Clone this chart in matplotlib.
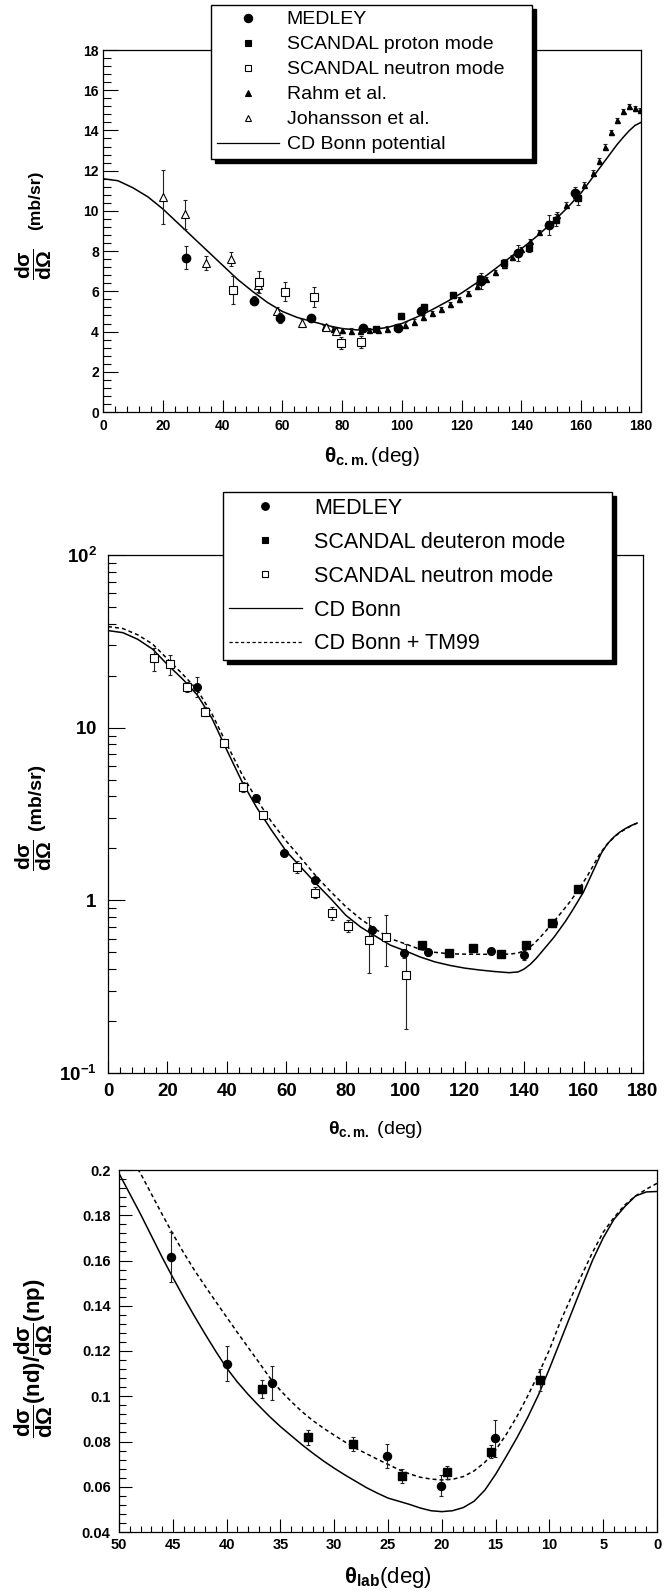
import numpy as np
import matplotlib
matplotlib.use("Agg")
import matplotlib.pyplot as plt
from matplotlib.lines import Line2D
from matplotlib.ticker import (MultipleLocator, FixedLocator, FixedFormatter,
                               NullFormatter, LogLocator, FuncFormatter)

plt.rcParams['font.family'] = ['Liberation Sans', 'DejaVu Sans']
plt.rcParams['font.weight'] = 'bold'
plt.rcParams['mathtext.fontset'] = 'custom'
plt.rcParams['mathtext.rm'] = 'Liberation Sans'
plt.rcParams['mathtext.it'] = 'Liberation Sans:italic'
plt.rcParams['mathtext.bf'] = 'Liberation Sans:bold'
plt.rcParams['mathtext.sf'] = 'Liberation Sans'

# ---------------- panel 1: np cross section (linear) ----------------
top_medley_x = [27.7, 50.4, 59.1, 69.7, 86.9, 98.6, 106.4, 126.5, 138.7, 149.3, 158.0]
top_medley_y = [7.68, 5.54, 4.66, 4.66, 4.16, 4.16, 5.00, 6.50, 7.90, 9.30, 10.88]
top_medley_err = [0.58, 0.22, 0.25, 0.15, 0.10, 0.10, 0.15, 0.40, 0.40, 0.50, 0.30]

top_scp_x = [91.5, 99.8, 107.5, 117.0, 126.0, 134.3, 142.6, 151.5, 158.8]
top_scp_y = [4.15, 4.78, 5.24, 5.82, 6.60, 7.40, 8.14, 9.55, 10.63]
top_scp_err = [0.10, 0.15, 0.15, 0.15, 0.20, 0.20, 0.20, 0.30, 0.35]

top_scn_x = [43.5, 52.1, 60.8, 70.5, 79.7, 86.4]
top_scn_y = [6.07, 6.45, 5.99, 5.74, 3.45, 3.50]
top_scn_err = [0.68, 0.55, 0.48, 0.50, 0.30, 0.30]

top_rahm_x = [74, 77, 80, 83, 86, 89, 92, 95, 98, 101, 104, 107, 110, 113, 116,
              119, 122, 125, 128, 131, 134, 137, 140, 143, 146, 149, 152, 155,
              158, 161, 164, 166, 168, 170, 172, 174, 176, 178, 179.5]
top_rahm_y = [4.22, 4.12, 4.07, 4.05, 4.05, 4.08, 4.10, 4.15, 4.25, 4.35, 4.50,
              4.70, 4.90, 5.10, 5.35, 5.60, 5.90, 6.25, 6.60, 6.95, 7.30, 7.70,
              8.10, 8.50, 8.95, 9.40, 9.80, 10.30, 10.80, 11.30, 11.90, 12.50,
              13.20, 13.90, 14.50, 14.95, 15.20, 15.10, 15.00]

top_joh_x = [20.1, 27.4, 34.3, 42.9, 52.0, 58.2, 66.5, 74.7, 78.0]
top_joh_y = [10.70, 9.83, 7.40, 7.61, 6.30, 5.02, 4.41, 4.25, 4.05]
top_joh_err = [1.35, 0.73, 0.35, 0.33, 0.35, 0.20, 0.20, 0.15, 0.15]

top_bonn_x = [0, 5, 10, 15, 20, 25, 30, 35, 40, 45, 50, 55, 60, 65, 70, 75, 80,
              85, 90, 95, 100, 105, 110, 115, 120, 125, 130, 135, 140, 145, 150,
              155, 160, 165, 170, 172, 174, 176, 178, 180]
top_bonn_y = [11.6, 11.5, 11.15, 10.7, 10.1, 9.4, 8.7, 8.0, 7.3, 6.6, 6.0, 5.45,
              5.0, 4.7, 4.5, 4.3, 4.15, 4.08, 4.1, 4.2, 4.4, 4.72, 5.08, 5.48,
              5.92, 6.42, 6.98, 7.55, 8.12, 8.72, 9.38, 10.1, 10.9, 11.9, 12.9,
              13.3, 13.65, 13.98, 14.25, 14.4]

# ---------------- panel 2: nd cross section (log) ----------------
mid_medley_x = [29.8, 49.8, 59.1, 69.7, 88.7, 99.7, 107.7, 129.0, 139.8, 149.8]
mid_medley_y = [17.3, 3.9, 1.88, 1.31, 0.674, 0.494, 0.499, 0.512, 0.483, 0.74]
mid_medley_err = [2.3, 0.15, 0.08, 0.06, 0.04, 0.03, 0.02, 0.02, 0.03, 0.04]

mid_scd_x = [105.8, 114.6, 122.8, 132.1, 140.6, 149.4, 158.2]
mid_scd_y = [0.552, 0.494, 0.529, 0.490, 0.552, 0.743, 1.17]
mid_scd_err = [0.015, 0.015, 0.015, 0.015, 0.015, 0.03, 0.04]

mid_scn_x = [15.5, 20.8, 26.7, 32.6, 39.0, 45.3, 52.1, 63.6, 69.8, 75.3, 80.7,
             87.7, 93.7, 100.1]
mid_scn_y = [25.2, 23.3, 17.3, 12.4, 8.13, 4.55, 3.13, 1.56, 1.11, 0.84, 0.714,
             0.59, 0.617, 0.37]
mid_scn_err = [3.8, 3.2, 1.2, 0.7, 0.4, 0.3, 0.15, 0.12, 0.08, 0.07, 0.06,
               0.21, 0.20, 0.19]

mid_bonn_x = [0, 5, 10, 15, 20, 25, 30, 35, 40, 45, 50, 55, 60, 65, 70, 75, 80,
              85, 90, 95, 100, 105, 110, 115, 120, 125, 130, 135, 138, 140, 142,
              144, 146, 148, 150, 152, 154, 156, 158, 160, 162, 164, 166, 168,
              170, 172, 174, 176, 178]
mid_bonn_y = [36.5, 35.5, 32.5, 28.5, 23.2, 19.2, 15.5, 11.3, 7.4, 4.9, 3.45,
              2.55, 1.92, 1.55, 1.25, 1.02, 0.82, 0.70, 0.62, 0.55, 0.51, 0.47,
              0.44, 0.42, 0.405, 0.395, 0.387, 0.381, 0.385, 0.40, 0.425, 0.46,
              0.505, 0.555, 0.61, 0.68, 0.76, 0.86, 0.98, 1.12, 1.33, 1.58, 1.88,
              2.12, 2.31, 2.47, 2.6, 2.71, 2.8]

mid_tm99_x = [0, 5, 10, 15, 20, 25, 30, 35, 40, 45, 50, 55, 60, 65, 70, 75, 80,
              85, 90, 95, 100, 105, 110, 115, 120, 125, 130, 135, 138, 141, 143,
              145, 147, 149, 151, 153, 155, 157, 159, 161, 163, 165, 167, 169,
              171, 173, 175, 177, 178]
mid_tm99_y = [38.5, 37.5, 34.5, 30.5, 25.0, 20.5, 16.6, 12.0, 8.0, 5.4, 3.85,
              2.85, 2.2, 1.75, 1.38, 1.12, 0.92, 0.78, 0.68, 0.60, 0.56, 0.52,
              0.50, 0.49, 0.488, 0.487, 0.487, 0.488, 0.495, 0.52, 0.555, 0.60,
              0.655, 0.72, 0.79, 0.87, 0.96, 1.07, 1.2, 1.36, 1.56, 1.8, 2.02,
              2.21, 2.38, 2.52, 2.64, 2.75, 2.8]

# ---------------- panel 3: nd/np ratio vs lab angle ----------------
bot_medley_x = [45.18, 39.98, 35.78, 25.11, 20.07, 15.06]
bot_medley_y = [0.1617, 0.1143, 0.1057, 0.0736, 0.0605, 0.0814]
bot_medley_err = [0.011, 0.0077, 0.0075, 0.0055, 0.0045, 0.0083]

bot_scandal_x = [36.67, 32.44, 28.27, 23.68, 19.48, 15.40, 10.88]
bot_scandal_y = [0.1031, 0.0818, 0.0788, 0.0648, 0.0664, 0.0755, 0.1072]
bot_scandal_err = [0.004, 0.0035, 0.003, 0.003, 0.0028, 0.003, 0.005]

bot_bonn_x = [0, 1, 2, 3, 4, 5, 6, 7, 8, 9, 10, 11, 12, 13, 14, 15, 16, 17, 18,
              19, 20, 21, 22, 23, 24, 25, 26, 27, 28, 29, 30, 31, 32, 33, 34,
              35, 36, 37, 38, 39, 40, 41, 42, 43, 44, 45, 46, 47, 48, 49, 50]
bot_bonn_y = [0.1905, 0.1903, 0.1885, 0.1838, 0.1782, 0.1700, 0.1600, 0.1482,
              0.1362, 0.1242, 0.1122, 0.1008, 0.0908, 0.0818, 0.0735, 0.0655,
              0.0585, 0.0536, 0.0508, 0.0494, 0.0490, 0.0494, 0.0506, 0.0522,
              0.0536, 0.0550, 0.0572, 0.0596, 0.0624, 0.0652, 0.0682, 0.0714,
              0.0749, 0.0786, 0.0826, 0.0866, 0.0910, 0.0958, 0.1008, 0.1063,
              0.1125, 0.1198, 0.1275, 0.1355, 0.1438, 0.1525, 0.1615, 0.1710,
              0.1805, 0.1895, 0.1985]

bot_tm99_x = [0, 1, 2, 3, 4, 5, 6, 7, 8, 9, 10, 11, 12, 13, 14, 15, 16, 17, 18,
              19, 20, 21, 22, 23, 24, 25, 26, 27, 28, 29, 30, 31, 32, 33, 34,
              35, 36, 37, 38, 39, 40, 41, 42, 43, 44, 45, 46, 47, 48, 48.2]
bot_tm99_y = [0.1941, 0.1915, 0.1885, 0.1845, 0.1790, 0.1725, 0.1635, 0.1535,
              0.1435, 0.1328, 0.1205, 0.1100, 0.1003, 0.0912, 0.0832, 0.0762,
              0.0708, 0.0670, 0.0645, 0.0633, 0.0630, 0.0634, 0.0642, 0.0657,
              0.0676, 0.0699, 0.0722, 0.0746, 0.0770, 0.0798, 0.0828, 0.0859,
              0.0893, 0.0932, 0.0977, 0.1026, 0.1083, 0.1150, 0.1216, 0.1282,
              0.1350, 0.1418, 0.1487, 0.1558, 0.1635, 0.1718, 0.1805, 0.1895,
              0.1985, 0.2000]

W, H = 665, 1594
fig = plt.figure(figsize=(W / 100, H / 100), dpi=100)


def rect(x0, x1, y0, y1):
    return [x0 / W, 1 - y1 / H, (x1 - x0) / W, (y1 - y0) / H]


ax1 = fig.add_axes(rect(103, 641, 50, 412))
ax2 = fig.add_axes(rect(108, 643, 555, 1073))
ax3 = fig.add_axes(rect(119, 657, 1170, 1532))

EB = dict(ecolor='#222222', elinewidth=0.8, capsize=1.6, capthick=0.8, ls='none')
CURVE = dict(color='black', lw=1.1)
DASH = dict(color='black', lw=1.1, dashes=(2.6, 2.0))


def style(ax, xpad, ypad, size, ylen=(10.5, 5.5), xlen=(8.5, 4.3)):
    for s in ax.spines.values():
        s.set_linewidth(0.9)
    ax.tick_params(which='both', direction='in', top=False, right=False,
                   width=0.8, labelsize=size)
    ax.tick_params(axis='y', which='major', length=ylen[0], pad=ypad)
    ax.tick_params(axis='y', which='minor', length=ylen[1])
    ax.tick_params(axis='x', which='major', length=xlen[0], pad=xpad)
    ax.tick_params(axis='x', which='minor', length=xlen[1])


# ----- panel 1 -----
ax1.plot(top_bonn_x, top_bonn_y, **CURVE, zorder=2)
ax1.errorbar(top_rahm_x, top_rahm_y, yerr=0.12, marker='^', ms=3.6,
             mfc='black', mec='black', **EB, zorder=3)
ax1.errorbar(top_joh_x, top_joh_y, yerr=top_joh_err, marker='^', ms=6,
             mfc='white', mec='black', mew=0.8, **EB, zorder=4)
ax1.errorbar(top_scn_x, top_scn_y, yerr=top_scn_err, marker='s', ms=5.3,
             mfc='white', mec='black', mew=0.8, **EB, zorder=4)
ax1.errorbar(top_scp_x, top_scp_y, yerr=top_scp_err, marker='s', ms=5.0,
             mfc='black', mec='black', **EB, zorder=5)
ax1.errorbar(top_medley_x, top_medley_y, yerr=top_medley_err, marker='o', ms=6,
             mfc='black', mec='black', **EB, zorder=5)
ax1.set_xlim(0, 180)
ax1.set_ylim(0, 18)
ax1.xaxis.set_major_locator(MultipleLocator(20))
ax1.xaxis.set_minor_locator(MultipleLocator(4))
ax1.yaxis.set_major_locator(MultipleLocator(2))
ax1.yaxis.set_minor_locator(MultipleLocator(0.4))
style(ax1, xpad=5, ypad=3, size=10)

# ----- panel 2 -----
ax2.set_yscale('log')
ax2.plot(mid_bonn_x, mid_bonn_y, **CURVE, zorder=2)
ax2.plot(mid_tm99_x, mid_tm99_y, **DASH, zorder=2)
ax2.errorbar(mid_scn_x, mid_scn_y, yerr=mid_scn_err, marker='s', ms=5.3,
             mfc='white', mec='black', mew=0.8, **EB, zorder=4)
ax2.errorbar(mid_scd_x, mid_scd_y, yerr=mid_scd_err, marker='s', ms=5.3,
             mfc='black', mec='black', **EB, zorder=5)
ax2.errorbar(mid_medley_x, mid_medley_y, yerr=mid_medley_err, marker='o', ms=5.5,
             mfc='black', mec='black', **EB, zorder=5)
ax2.set_xlim(0, 180)
ax2.set_ylim(0.1, 100)
ax2.xaxis.set_major_locator(MultipleLocator(20))
ax2.xaxis.set_minor_locator(MultipleLocator(4))
ax2.yaxis.set_major_locator(FixedLocator([0.1, 1, 10, 100]))
ax2.yaxis.set_major_formatter(FixedFormatter(
    [r'$\mathbf{10^{-1}}$', r'$\mathbf{1}$', r'$\mathbf{10}$', r'$\mathbf{10^{2}}$']))
ax2.yaxis.set_minor_locator(LogLocator(base=10, subs=np.arange(2, 10)))
ax2.yaxis.set_minor_formatter(NullFormatter())
style(ax2, xpad=7, ypad=8, size=13.5, ylen=(12, 6))

# ----- panel 3 -----
ax3.plot(bot_bonn_x, bot_bonn_y, **CURVE, zorder=2)
ax3.plot(bot_tm99_x, bot_tm99_y, **DASH, zorder=2)
ax3.errorbar(bot_scandal_x, bot_scandal_y, yerr=bot_scandal_err, marker='s', ms=5.3,
             mfc='black', mec='black', **EB, zorder=5)
ax3.errorbar(bot_medley_x, bot_medley_y, yerr=bot_medley_err, marker='o', ms=5.8,
             mfc='black', mec='black', **EB, zorder=5)
ax3.set_xlim(50, 0)
ax3.set_ylim(0.04, 0.2)
ax3.xaxis.set_major_locator(MultipleLocator(5))
ax3.xaxis.set_minor_locator(MultipleLocator(1))
ax3.yaxis.set_major_locator(MultipleLocator(0.02))
ax3.yaxis.set_minor_locator(MultipleLocator(0.004))
ax3.yaxis.set_major_formatter(FuncFormatter(lambda v, p: '%g' % round(v, 3)))
style(ax3, xpad=4, ypad=6, size=10.5, ylen=(9.5, 5), xlen=(9.5, 4))

# ----- axis titles -----
def xtitle(ax, text, ypix, size):
    ax.set_xlabel(text, fontsize=size, fontweight='normal')
    x0, y0, w, h = ax.get_position().bounds
    ax.xaxis.set_label_coords(0.5, ((1 - ypix / H) - y0) / h)
    ax.xaxis.label.set_va('center')


xtitle(ax1, r'$\mathbf{\theta_{c.m.}}$(deg)', 457, 15)
xtitle(ax2, r'$\mathbf{\theta_{c.m.}}$ (deg)', 1130, 14)
xtitle(ax3, r'$\mathbf{\theta_{lab}}$(deg)', 1577, 16)

frac = r'\dfrac{d\sigma}{d\Omega}'


def vtext(xpix, ypix, s, size):
    fig.text(xpix / W, 1 - ypix / H, s, rotation=90, fontsize=size,
             fontweight='bold', ha='center', va='center')


vtext(34, 264, r'$\mathbf{' + frac + '}$', 15)
vtext(36, 200, '(mb/sr)', 12.5)
vtext(34, 855, r'$\mathbf{' + frac + '}$', 15)
vtext(36, 797, '(mb/sr)', 14)
vtext(34, 1358, r'$\mathbf{' + frac + r'(nd)/' + frac + r'(np)}$', 16)

# ----- legends -----
def mk(marker, ms, filled=True):
    return Line2D([], [], ls='none', marker=marker, ms=ms,
                  mfc='black' if filled else 'white', mec='black', mew=0.8)


SHADOW = {'ox': 3, 'oy': -3, 'facecolor': 'black', 'edgecolor': 'black',
          'alpha': 1}

leg1 = fig.legend(
    [mk('o', 6), mk('s', 4.6), mk('s', 4.6, False), mk('^', 3.8), mk('^', 5, False),
     Line2D([], [], color='black', lw=0.9)],
    ['MEDLEY', 'SCANDAL proton mode', 'SCANDAL neutron mode', 'Rahm et al.',
     'Johansson et al.', 'CD Bonn potential'],
    loc='upper left', bbox_to_anchor=(211 / W, 1 - 5 / H, 321 / W, 0.0),
    mode='expand', borderaxespad=0,
    prop={'weight': 'normal', 'size': 14}, handlelength=3.2, handletextpad=0.4,
    borderpad=0.3, labelspacing=0.38, fancybox=False, framealpha=1,
    edgecolor='black', shadow=SHADOW)
leg1.get_frame().set_linewidth(1.0)

leg2 = fig.legend(
    [mk('o', 5.5), mk('s', 4.8), mk('s', 4.8, False),
     Line2D([], [], color='black', lw=0.9),
     Line2D([], [], color='black', lw=0.9, dashes=(2.6, 2.0))],
    ['MEDLEY', 'SCANDAL deuteron mode', 'SCANDAL neutron mode', 'CD Bonn',
     'CD Bonn + TM99'],
    loc='upper left', bbox_to_anchor=(223 / W, 1 - 492 / H, 389 / W, 0.0),
    mode='expand', borderaxespad=0,
    prop={'weight': 'normal', 'size': 15.5}, handlelength=3.4, handletextpad=0.58,
    borderpad=0.27, labelspacing=0.6, fancybox=False, framealpha=1,
    edgecolor='black', shadow=SHADOW)
leg2.get_frame().set_linewidth(1.0)

fig.savefig('out.png', dpi=100)
